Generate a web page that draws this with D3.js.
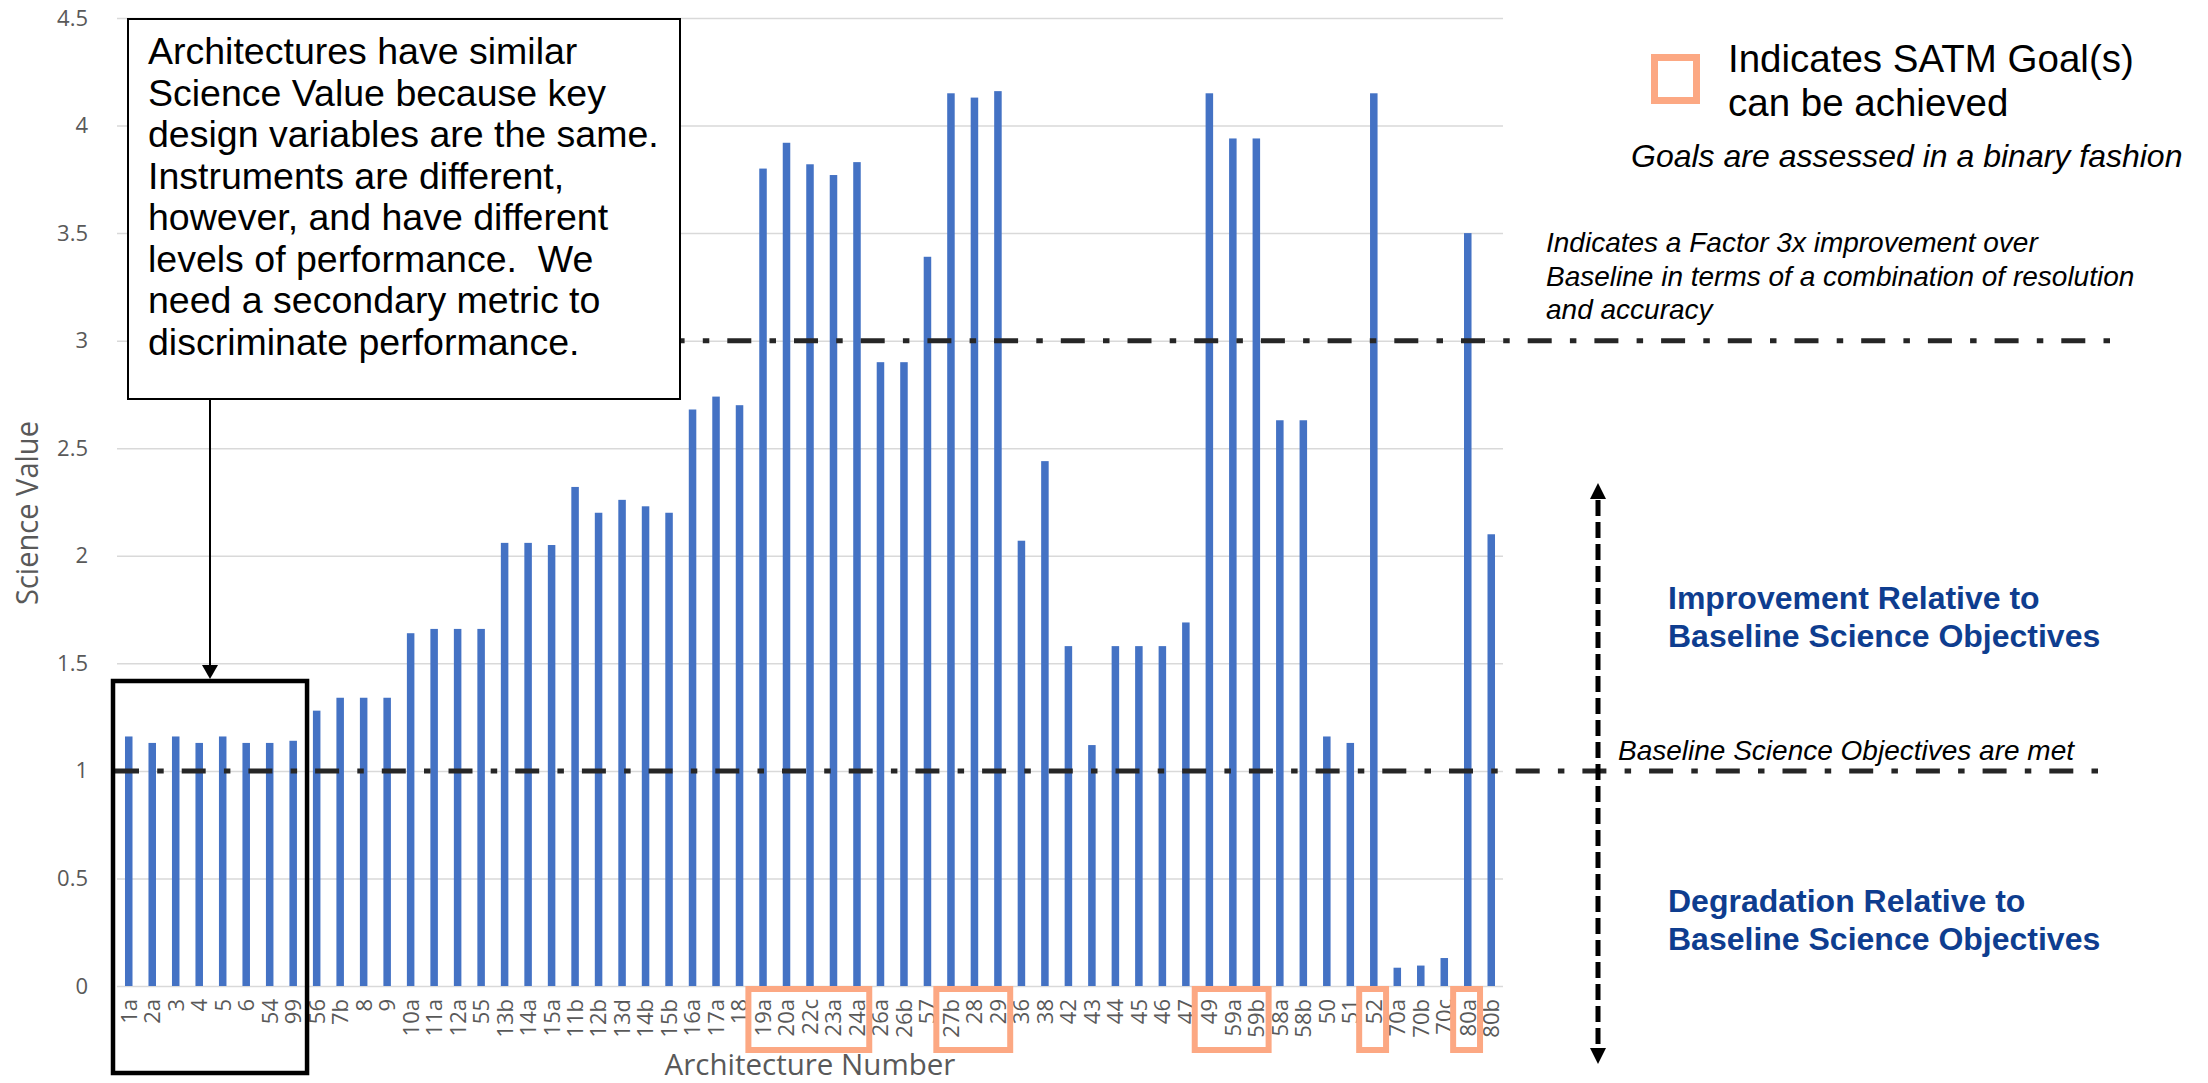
<!DOCTYPE html>
<html><head><meta charset="utf-8">
<script src="https://cdn.jsdelivr.net/npm/d3@7"></script>
<style>body{margin:0;background:#fff}</style>
</head><body>
<svg id="c" width="2208" height="1083" xmlns="http://www.w3.org/2000/svg"></svg>
<script>
const categories = ["1a","2a","3","4","5","6","54","99","56","7b","8","9","10a","11a","12a","55","13b","14a","15a","11b","12b","13d","14b","15b","16a","17a","18","19a","20a","22c","23a","24a","26a","26b","57","27b","28","29","36","38","42","43","44","45","46","47","49","59a","59b","58a","58b","50","51","52","70a","70b","70c","80a","80b"];
const scienceValues = [1.16,1.13,1.16,1.13,1.16,1.13,1.13,1.14,1.28,1.34,1.34,1.34,1.64,1.66,1.66,1.66,2.06,2.06,2.05,2.32,2.20,2.26,2.23,2.20,2.68,2.74,2.70,3.80,3.92,3.82,3.77,3.83,2.90,2.90,3.39,4.15,4.13,4.16,2.07,2.44,1.58,1.12,1.58,1.58,1.58,1.69,4.15,3.94,3.94,2.63,2.63,1.16,1.13,4.15,0.085,0.095,0.13,3.50,2.10];
const yTicks = [0,0.5,1,1.5,2,2.5,3,3.5,4,4.5];
const goalGroups = [["19a","24a"],["27b","29"],["49","59b"],["52","52"],["80a","80a"]];
const similarGroup = ["1a","99"];
const thresholds = [1, 3];
const calloutLines = ["Architectures have similar","Science Value because key","design variables are the same.","Instruments are different,","however, and have different","levels of performance.  We","need a secondary metric to","discriminate performance."];

const svg = d3.select("#c");
const plotL = 117, plotR = 1503;
const x = d3.scaleBand().domain(categories).range([plotL, plotR]).paddingInner(0.68).paddingOuter(0.34);
const y = d3.scaleLinear().domain([0, 4.5]).range([986, 18]);
const step = x.step(), bw = x.bandwidth();
const cx = c => x(c) + bw / 2;
const grey = "#595959";

// gridlines + y tick labels
const gy = svg.append("g").attr("transform", `translate(${plotL},0)`)
  .call(d3.axisLeft(y).tickValues(yTicks).tickSize(-(plotR - plotL)).tickPadding(29).tickFormat(d3.format("~g")));
gy.select(".domain").remove();
gy.selectAll(".tick line").attr("stroke", "#d9d9d9").attr("stroke-width", 1.5);
gy.selectAll(".tick text").attr("fill", grey).style("font-family", "'Open Sans', sans-serif").style("font-size", "22px");

// bars
svg.append("g").selectAll("rect").data(categories.map((c, i) => ({c, v: scienceValues[i]})))
  .join("rect")
  .attr("x", d => x(d.c)).attr("width", bw)
  .attr("y", d => y(d.v)).attr("height", d => y(0) - y(d.v))
  .attr("fill", "#4472C4");

// x axis labels
const gx = svg.append("g").attr("transform", `translate(0,${y(0)})`)
  .call(d3.axisBottom(x).tickSize(0));
gx.select(".domain").remove();
gx.selectAll(".tick text")
  .attr("transform", "rotate(-90)").attr("text-anchor", "end")
  .attr("x", -13).attr("y", 0).attr("dy", "0.36em")
  .attr("fill", grey).style("font-family", "'Open Sans', sans-serif").style("font-size", "22px");

// threshold dash-dot lines
const thrExtent = {1: [115, 2100], 3: [127, 2112]};
svg.append("g").selectAll("line").data(thresholds).join("line")
  .attr("x1", d => thrExtent[d][0]).attr("x2", d => thrExtent[d][1])
  .attr("y1", d => y(d)).attr("y2", d => y(d))
  .attr("stroke", "#262626").attr("stroke-width", 5)
  .attr("stroke-dasharray", "24 18.2 6.5 18");

// goal boxes
svg.append("g").selectAll("rect").data(goalGroups).join("rect")
  .attr("x", d => cx(d[0]) - 0.75 * step + 3)
  .attr("width", d => cx(d[1]) - cx(d[0]) + 1.4 * step - 6)
  .attr("y", y(0) + 3).attr("height", 61)
  .attr("fill", "none").attr("stroke", "#FCA883").attr("stroke-width", 6);

// black box around similar architectures
svg.append("rect")
  .attr("x", cx(similarGroup[0]) - 0.67 * step)
  .attr("width", cx(similarGroup[1]) - cx(similarGroup[0]) + 1.26 * step)
  .attr("y", 681).attr("height", 392)
  .attr("fill", "none").attr("stroke", "#000").attr("stroke-width", 4.5);

// callout
svg.append("rect").attr("x", 128).attr("y", 19).attr("width", 552).attr("height", 380)
  .attr("fill", "#fff").attr("stroke", "#000").attr("stroke-width", 2);
svg.append("g").selectAll("text").data(calloutLines).join("text")
  .attr("x", 148).attr("y", (d, i) => 64 + i * 41.5)
  .attr("xml:space", "preserve").style("white-space", "pre")
  .style("font-family", "'Liberation Sans', Arial, sans-serif").style("font-size", "37.5px").attr("fill", "#000")
  .text(d => d);
svg.append("line").attr("x1", 210).attr("x2", 210).attr("y1", 399).attr("y2", 668)
  .attr("stroke", "#000").attr("stroke-width", 2);
svg.append("path").attr("d", "M202,665 L218,665 L210,679 Z").attr("fill", "#000");

// axis titles
svg.append("text").attr("transform", "translate(38,513) rotate(-90)").attr("text-anchor", "middle")
  .attr("textLength", 184).attr("lengthAdjust", "spacingAndGlyphs")
  .attr("fill", grey).style("font-family", "'Open Sans', sans-serif").style("font-size", "31px").text("Science Value");
svg.append("text").attr("x", 810).attr("y", 1075).attr("text-anchor", "middle")
  .attr("fill", grey).style("font-family", "'Open Sans', sans-serif").style("font-size", "29.5px").text("Architecture Number");

// legend
svg.append("rect").attr("x", 1654.5).attr("y", 57.5).attr("width", 42).attr("height", 43)
  .attr("fill", "none").attr("stroke", "#FCA883").attr("stroke-width", 7);
const arial = "'Liberation Sans', Arial, sans-serif";
function txt(xp, yp, s, size, opts = {}) {
  const t = svg.append("text").attr("x", xp).attr("y", yp).text(s)
    .style("font-family", arial).style("font-size", size + "px")
    .attr("fill", opts.fill || "#000");
  if (opts.italic) t.style("font-style", "italic");
  if (opts.bold) t.style("font-weight", "bold");
  return t;
}
txt(1728, 72, "Indicates SATM Goal(s)", 38.5);
txt(1728, 116, "can be achieved", 38.5);
txt(1631, 167, "Goals are assessed in a binary fashion", 32, {italic: true});
txt(1546, 252, "Indicates a Factor 3x improvement over", 28, {italic: true});
txt(1546, 286, "Baseline in terms of a combination of resolution", 28, {italic: true});
txt(1546, 319, "and accuracy", 28, {italic: true});
txt(1618, 760, "Baseline Science Objectives are met", 28, {italic: true});
const blue = "#0E3D8F";
txt(1668, 609, "Improvement Relative to", 32, {bold: true, fill: blue});
txt(1668, 647, "Baseline Science Objectives", 32, {bold: true, fill: blue});
txt(1668, 912, "Degradation Relative to", 32, {bold: true, fill: blue});
txt(1668, 950, "Baseline Science Objectives", 32, {bold: true, fill: blue});

// vertical double arrow
svg.append("line").attr("x1", 1598).attr("x2", 1598).attr("y1", 500).attr("y2", 1047)
  .attr("stroke", "#000").attr("stroke-width", 5).attr("stroke-dasharray", "16 6");
svg.append("path").attr("d", "M1590,499 L1606,499 L1598,483 Z").attr("fill", "#000");
svg.append("path").attr("d", "M1590,1048 L1606,1048 L1598,1064 Z").attr("fill", "#000");
</script>
</body></html>
